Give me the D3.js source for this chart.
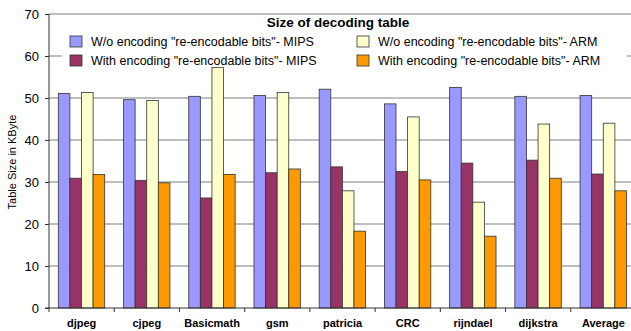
<!DOCTYPE html>
<html lang="en">
<head>
<meta charset="utf-8">
<title>Size of decoding table</title>
<script src="https://d3js.org/d3.v7.min.js"></script>
<style>
  body { margin: 0; background: white; }
  svg { display: block; font-family: "Liberation Sans", Arial, sans-serif; }
</style>
</head>
<body>
<div id="chart"></div>
<script>
// categories and series
var benchmarks = ["djpeg", "cjpeg", "Basicmath", "gsm", "patricia", "CRC", "rijndael", "dijkstra", "Average"];
var seriesNames = [
  "W/o encoding \"re-encodable bits\"- MIPS",
  "With encoding \"re-encodable bits\"- MIPS",
  "W/o encoding \"re-encodable bits\"- ARM",
  "With encoding \"re-encodable bits\"- ARM"
];
var mipsWithout = [51.1, 49.6, 50.4, 50.6, 52.1, 48.6, 52.5, 50.4, 50.6];
var mipsWith    = [30.9, 30.4, 26.2, 32.2, 33.6, 32.5, 34.5, 35.2, 31.9];
var armWithout  = [51.3, 49.4, 57.3, 51.3, 27.9, 45.5, 25.2, 43.8, 44.0];
var armWith     = [31.8, 29.8, 31.8, 33.1, 18.3, 30.5, 17.1, 30.9, 27.9];
var yTicks = [0, 10, 20, 30, 40, 50, 60, 70];
var colors = ["#9999ff", "#993366", "#ffffcc", "#ff9900"];

var allSeries = [mipsWithout, mipsWith, armWithout, armWith];

var W = 631, H = 331;
var svg = d3.select("#chart").append("svg")
    .attr("width", W)
    .attr("height", H);

// plot area runs a bit past the right edge, like the original picture
var x = d3.scaleBand()
    .domain(benchmarks)
    .range([49, 636]);

var inner = d3.scaleBand()
    .domain(d3.range(4))
    .range([9.3, 9.3 + 46.4]);

var y = d3.scaleLinear()
    .domain([0, 70])
    .range([308, 14]);

// gridlines
svg.append("g")
  .selectAll("line")
  .data(yTicks.filter(function(d){ return d > 0; }))
  .join("line")
    .attr("x1", 49)
    .attr("x2", W)
    .attr("y1", function(d){ return y(d); })
    .attr("y2", function(d){ return y(d); })
    .attr("stroke", "#a8a8a8")
    .attr("stroke-width", 1.5);

// legend box (white, hides gridlines behind it)
svg.append("rect")
    .attr("x", 62).attr("y", 16)
    .attr("width", 565).attr("height", 50)
    .attr("fill", "white");

// bars
var groups = svg.append("g")
  .selectAll("g")
  .data(benchmarks)
  .join("g")
    .attr("transform", function(d){ return "translate(" + x(d) + ",0)"; });

groups.selectAll("rect")
  .data(function(d, i){ return allSeries.map(function(s, k){ return {k: k, v: s[i]}; }); })
  .join("rect")
    .attr("x", function(d){ return inner(d.k); })
    .attr("width", inner.bandwidth())
    .attr("y", function(d){ return y(d.v); })
    .attr("height", function(d){ return y(0) - y(d.v); })
    .attr("fill", function(d){ return colors[d.k]; })
    .attr("stroke", "#333")
    .attr("stroke-width", 0.8);

// y axis
var yAxis = svg.append("g")
    .attr("transform", "translate(49,0)")
    .call(d3.axisLeft(y).tickValues(yTicks).tickSize(4).tickPadding(6));
yAxis.select(".domain").attr("stroke", "#333").attr("d", "M0," + y(70) + "V" + y(0));
yAxis.selectAll(".tick line").attr("stroke", "#333");
yAxis.selectAll("text")
    .style("font-size", "13px")
    .style("font-family", "Liberation Sans, Arial, sans-serif")
    .attr("fill", "#000");

// x axis
var xAxis = svg.append("g")
    .attr("transform", "translate(0,308)");
xAxis.append("line")
    .attr("x1", 45).attr("x2", W)
    .attr("y1", 0).attr("y2", 0)
    .attr("stroke", "#333");
xAxis.selectAll(".xtick")
  .data(benchmarks)
  .join("line")
    .attr("x1", function(d){ return x(d); })
    .attr("x2", function(d){ return x(d); })
    .attr("y1", 0).attr("y2", 4)
    .attr("stroke", "#333");
xAxis.selectAll("text")
  .data(benchmarks)
  .join("text")
    .attr("x", function(d){ return x(d) + x.bandwidth() / 2; })
    .attr("y", 19)
    .attr("text-anchor", "middle")
    .style("font-size", "11px")
    .style("font-weight", "bold")
    .text(function(d){ return d; });

// y label
svg.append("text")
    .attr("transform", "translate(16,162) rotate(-90)")
    .attr("text-anchor", "middle")
    .style("font-size", "11px")
    .text("Table Size in KByte");

svg.append("text")
    .attr("x", 338).attr("y", 27)
    .attr("text-anchor", "middle")
    .style("font-size", "13.5px")
    .style("font-weight", "bold")
    .text("Size of decoding table");

var legendPos = [[70, 36], [70, 55], [357, 36], [357, 55]];
var legend = svg.append("g")
  .selectAll("g")
  .data(seriesNames)
  .join("g")
    .attr("transform", function(d, i){ return "translate(" + legendPos[i][0] + "," + legendPos[i][1] + ")"; });
legend.append("rect")
    .attr("width", 12).attr("height", 11)
    .attr("fill", function(d, i){ return colors[i]; })
    .attr("stroke", "#333")
    .attr("stroke-width", 0.8);
legend.append("text")
    .attr("x", 21).attr("y", 10)
    .style("font-size", "12.5px")
    .text(function(d){ return d; });
</script>
</body>
</html>
